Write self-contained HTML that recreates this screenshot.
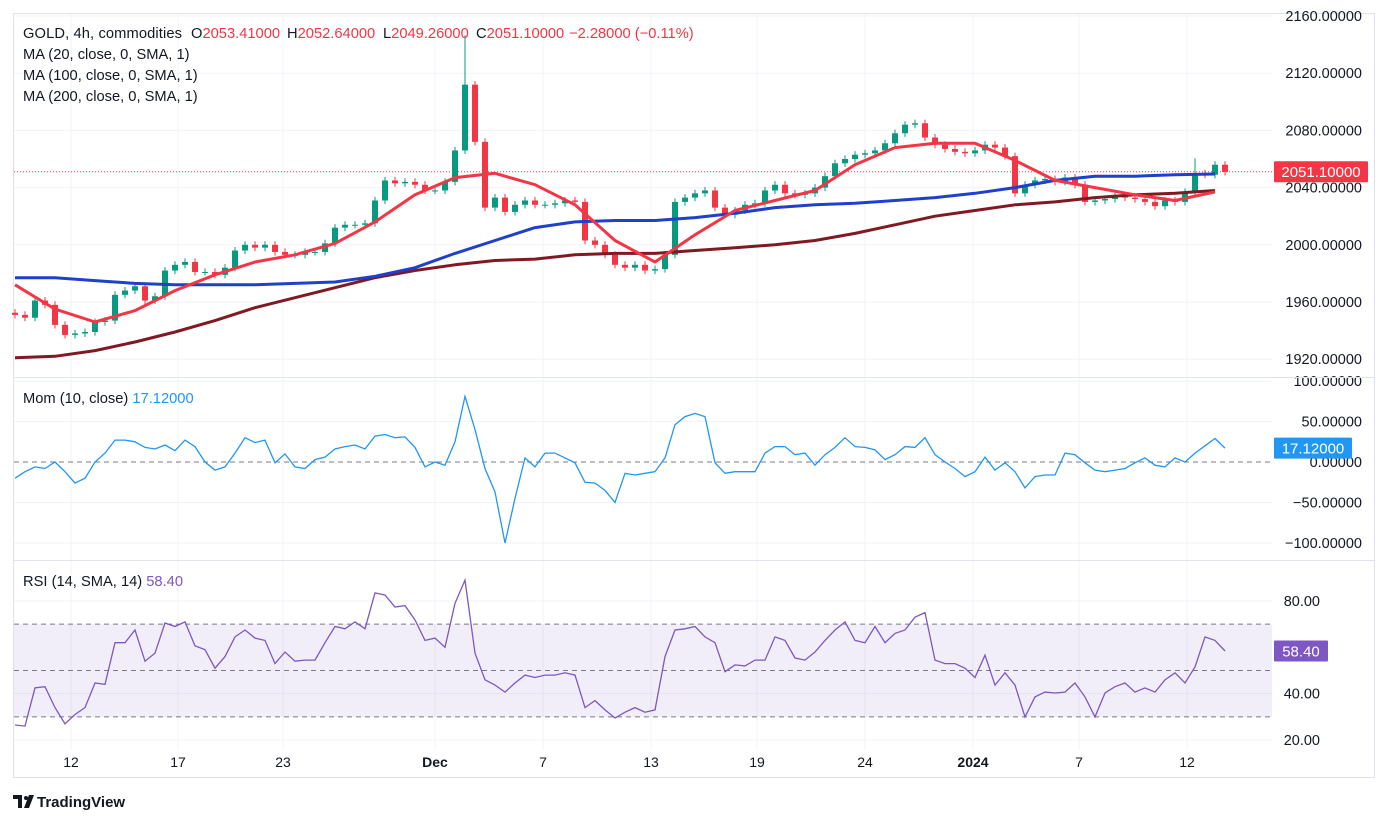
<!DOCTYPE html>
<html><head><meta charset="utf-8"><style>
html,body{margin:0;padding:0;background:#fff;}
svg{display:block;font-family:"Liberation Sans",sans-serif;}
</style></head><body>
<svg id="chart" width="1387" height="823" viewBox="0 0 1387 823" xmlns="http://www.w3.org/2000/svg">
<rect x="0" y="0" width="1387" height="823" fill="#fff"/>
<rect x="13.5" y="13.5" width="1361" height="764" fill="none" stroke="#e0e3eb"/>
<g id="grid"></g>
<g id="rsiband"></g>
<g id="price"></g>
<g id="mom"></g>
<g id="rsi"></g>
<g id="axes"></g>
<line x1="13" y1="377.5" x2="1375" y2="377.5" stroke="#e0e3eb"/>
<line x1="13" y1="560.5" x2="1375" y2="560.5" stroke="#e0e3eb"/>
<g font-size="14.7" fill="#131722">
<text x="23" y="38" textLength="159">GOLD, 4h, commodities</text>
<text x="191" y="38">O<tspan fill="#f23645">2053.41000</tspan></text>
<text x="287" y="38">H<tspan fill="#f23645">2052.64000</tspan></text>
<text x="383" y="38">L<tspan fill="#f23645">2049.26000</tspan></text>
<text x="476" y="38">C<tspan fill="#f23645">2051.10000</tspan></text>
<text x="569" y="38" fill="#f23645">−2.28000 (−0.11%)</text>
<text x="23" y="59">MA (20, close, 0, SMA, 1)</text>
<text x="23" y="80">MA (100, close, 0, SMA, 1)</text>
<text x="23" y="101">MA (200, close, 0, SMA, 1)</text>
</g>
<text x="23" y="403" font-size="14.7" fill="#131722">Mom (10, close)  <tspan fill="#2196f3">17.12000</tspan></text>
<text x="23" y="586" font-size="14.7" fill="#131722">RSI (14, SMA, 14)  <tspan fill="#7e57c2">58.40</tspan></text>
<g>
<path d="M13 795 h9 v13 h-4 v-9 h-5z M24 808 l5 -13 h5 l-5 13z" fill="#131722"/>
<circle cx="26" cy="798" r="2" fill="#131722"/>
<text x="37" y="807" font-size="15" font-weight="bold" fill="#131722">TradingView</text>
</g>
<script>
const closes=[1951,1949,1961,1958,1944,1937,1938,1939,1946,1947,1965,1968,1971,1961,1964,1982,1986,1988,1981,1981,1979,1984,1996,2000,1998,2000,1995,1993,1993,1995,1995,2001,2012,2014,2014,2015,2031,2045,2043,2044,2042,2038,2038,2044,2066,2112,2072,2026,2033,2023,2028,2031,2028,2028,2029,2031,2030,2003,2000,1993,1986,1984,1986,1982,1983,1993,2030,2033,2036,2038,2026,2021,2024,2028,2029,2038,2042,2036,2035,2036,2040,2048,2057,2060,2063,2064,2066,2071,2078,2084,2085,2075,2070,2067,2065,2064,2066,2070,2068,2062,2036,2042,2045,2046,2044,2047,2042,2030,2031,2032,2034,2033,2032,2030,2027,2031,2030,2037,2050,2049,2056,2051];
const extraHigh=[0,0,0,0,0,0,0,0,0,0,0,0,0,0,0,0,0,0,0,0,0,0,0,0,0,0,0,0,0,0,0,0,0,0,0,0,0,0,0,0,0,0,0,0,0,32,0,0,0,0,0,0,0,0,0,0,0,0,0,0,0,0,0,0,0,0,0,0,0,0,0,0,0,0,0,0,0,0,0,0,0,0,0,0,0,0,0,0,0,0,0,0,0,0,0,0,0,0,0,0,0,0,0,0,0,0,0,0,0,0,0,0,0,0,0,0,0,0,8,0,0,0];
const ma20=[1972,1955,1946,1954,1968,1979,1988,1993,2001,2016,2035,2047,2050,2042,2028,2003,1988,2007,2024,2031,2038,2056,2068,2071,2071,2059,2045,2040,2035,2031,2037];
const ma100=[1977,1977,1975,1973,1972,1972,1972,1973,1974,1978,1984,1994,2003,2012,2016,2017,2017,2019,2022,2026,2028,2029,2031,2033,2036,2040,2045,2048,2048,2049,2049.5];
const ma200=[1921,1922,1926,1932,1939,1947,1956,1963,1970,1977,1982,1986,1989,1990,1993,1994,1994,1996,1998,2000,2003,2008,2014,2020,2024,2028,2030,2033,2035,2036,2038];
const mom=[-20,-12,-6,-8,0,-12,-26,-20,0,11,27,27,25,18,16,21,14,27,19,0,-10,-6,11,30,24,27,-1,10,-6,-8,3,6,16,19,21,16,32,34,30,31,18,-6,0,-4,25,81,40,-8,-37,-100,-45,5,-6,11,11,5,-1,-25,-26,-35,-50,-14,-16,-14,-12,5,46,56,60,56,-1,-14,-12,-12,-12,11,19,19,9,11,-4,9,18,30,19,18,15,3,9,19,18,30,9,0,-8,-18,-12,6,-10,-1,-12,-32,-18,-16,-16,11,9,-1,-10,-12,-10,-8,-1,5,-4,-6,5,0,11,20,29,17.12];
const rsiVals=[26.5,26,42.5,43,34,27,31,34,44.6,44,62,62,67.5,54,57.5,70.5,69,71,60.6,59,51,56,64.5,67.5,64,63,53,58,54,54.5,54.5,62,69,68,71,68,83.5,82.6,77.4,78,71.8,63,64,60,79,89,57.5,46,43.7,40.7,44.6,48,47,48,48,49,48,34,37,33,29.5,32,34,32,33,56,67.5,68,69,64.5,62,49.5,52.4,52,54.5,54.5,64.5,63,55.4,54.5,58,63,67.5,71,63,62,69,62,66,67.5,73,75,54.5,53,53,51,47,56.6,43.7,49,43.7,30,38.6,40.7,40.3,40.7,44.6,38.6,30,40.3,43,44.6,40.7,42.5,40.7,46,49,44.6,51.5,64.5,63,58.4];
const priceTicks=[1920,1960,2000,2040,2080,2120,2160];
const momTicks=[-100,-50,0,50,100];
const rsiTicks=[20,40,80];
const timeLabels=["12","17","23","Dec","7","13","19","24","2024","7","12"];
const timeLabelIdx=[5.6,16.3,26.8,42,52.8,63.6,74.2,85,95.8,106.4,117.2];
const lastPrice=2051.1;

const NS="http://www.w3.org/2000/svg";
const X0=15,STEP=10;
const xS=i=>X0+i*STEP;
const yP=v=>16+(2160-v)*1.43;
const yM=v=>462-v*0.81;
const yR=v=>601+(80-v)*2.317;
function mk(tag,attrs,parent){const e=document.createElementNS(NS,tag);for(const k in attrs)e.setAttribute(k,attrs[k]);parent.appendChild(e);return e;}
const grid=document.getElementById('grid'),axes=document.getElementById('axes');
timeLabels.forEach((t,k)=>{
  const x=xS(timeLabelIdx[k]);
  const gl=mk('line',{x1:x,y1:14,x2:x,y2:750,stroke:'#f0f3fa'},grid);
  
  
  const bold=(t==='Dec'||t==='2024');
  const tx=mk('text',{x:x,y:767,'font-size':14,'text-anchor':'middle',fill:'#131722','font-weight':bold?'bold':'normal'},axes);
  tx.textContent=t;
  
  
});
function fmt5(v){return (v<0?'−':'')+Math.abs(v).toFixed(5);}
priceTicks.forEach(v=>{
  const y=yP(v);
  const gl=mk('line',{x1:14,y1:y,x2:1272,y2:y,stroke:'#f0f3fa'},grid);
  
  
  const tx=mk('text',{x:1362,y:y+5,'font-size':14.5,'text-anchor':'end',fill:'#131722'},axes);
  tx.textContent=v.toFixed(5);
  
  
});
momTicks.forEach(v=>{
  const y=yM(v);
  if(v!==0){const gl=mk('line',{x1:14,y1:y,x2:1272,y2:y,stroke:'#f0f3fa'},grid);
  
  }
  const tx=mk('text',{x:1362,y:y+5,'font-size':14.5,'text-anchor':'end',fill:'#131722'},axes);
  tx.textContent=fmt5(v);
  
  
});
rsiTicks.forEach(v=>{
  const y=yR(v);
  const gl=mk('line',{x1:14,y1:y,x2:1272,y2:y,stroke:'#f0f3fa'},grid);
  
  
  const tx=mk('text',{x:1320,y:y+5,'font-size':14.5,'text-anchor':'end',fill:'#131722'},axes);
  tx.textContent=v.toFixed(2);
  
  
});
const band=document.getElementById('rsiband');
const bf=mk('rect',{x:14,y:yR(70),width:1258,height:yR(30)-yR(70),fill:'rgba(126,87,194,0.1)'},band);


[70,50,30].forEach(v=>{
  const l=mk('line',{x1:14,y1:yR(v),x2:1272,y2:yR(v),stroke:'#787b86','stroke-dasharray':'5,4'},band);
  
  
});
const pg=document.getElementById('price');
const pl=mk('line',{x1:14,y1:yP(lastPrice),x2:1272,y2:yP(lastPrice),stroke:'#f23645','stroke-dasharray':'1,2'},pg);


closes.forEach((c,i)=>{
  const o=i>0?closes[i-1]:c+1.5;
  const up=c>=o;
  const col=up?'#089981':'#f23645';
  const hi=Math.max(o,c)+2.5+extraHigh[i],lo=Math.min(o,c)-2.5;
  const x=xS(i);
  const g=mk('g',{},pg);
  
  
  mk('line',{x1:x,y1:yP(hi),x2:x,y2:yP(lo),stroke:col,'stroke-width':1},g);
  const top=yP(Math.max(o,c)),bot=yP(Math.min(o,c));
  mk('rect',{x:x-3,y:top,width:6,height:Math.max(1,bot-top),fill:col},g);
});
function maLine(arr,col,name){
  const d=arr.map((v,k)=>(k?'L':'M')+xS(k*4).toFixed(1)+','+yP(v).toFixed(1)).join('');
  const p=mk('path',{d:d,fill:'none',stroke:col,'stroke-width':3,'stroke-linejoin':'round'},pg);
  
  
}
maLine(ma200,'#801922','ma200-line');
maLine(ma100,'#1e40cc','ma100-line');
maLine(ma20,'#f23645','ma20-line');
const mg=document.getElementById('mom');
const zl=mk('line',{x1:14,y1:yM(0),x2:1272,y2:yM(0),stroke:'#787b86','stroke-dasharray':'5,4'},mg);


const md=mom.map((v,i)=>(i?'L':'M')+xS(i)+','+yM(v).toFixed(1)).join('');
const mp=mk('path',{d:md,fill:'none',stroke:'#2196f3','stroke-width':1.3},mg);


const rg=document.getElementById('rsi');
const rd=rsiVals.map((v,i)=>(i?'L':'M')+xS(i)+','+yR(v).toFixed(1)).join('');
const rp=mk('path',{d:rd,fill:'none',stroke:'#7e57c2','stroke-width':1.3},rg);


function badge(y,w,col,txt,name){
  const g=mk('g',{},axes);
  
  
  mk('rect',{x:1274,y:y-10.5,width:w,height:21,fill:col,rx:1},g);
  const t=mk('text',{x:1274+w/2,y:y+5.5,'font-size':15,'text-anchor':'middle',fill:'#fff'},g);
  t.textContent=txt;
}
badge(yP(lastPrice),94,'#f23645','2051.10000','last-price-badge');
badge(yM(mom[mom.length-1]),78,'#2196f3','17.12000','mom-value-badge');
badge(yR(rsiVals[rsiVals.length-1]),54,'#7e57c2','58.40','rsi-value-badge');
</script>
</svg>
</body></html>
